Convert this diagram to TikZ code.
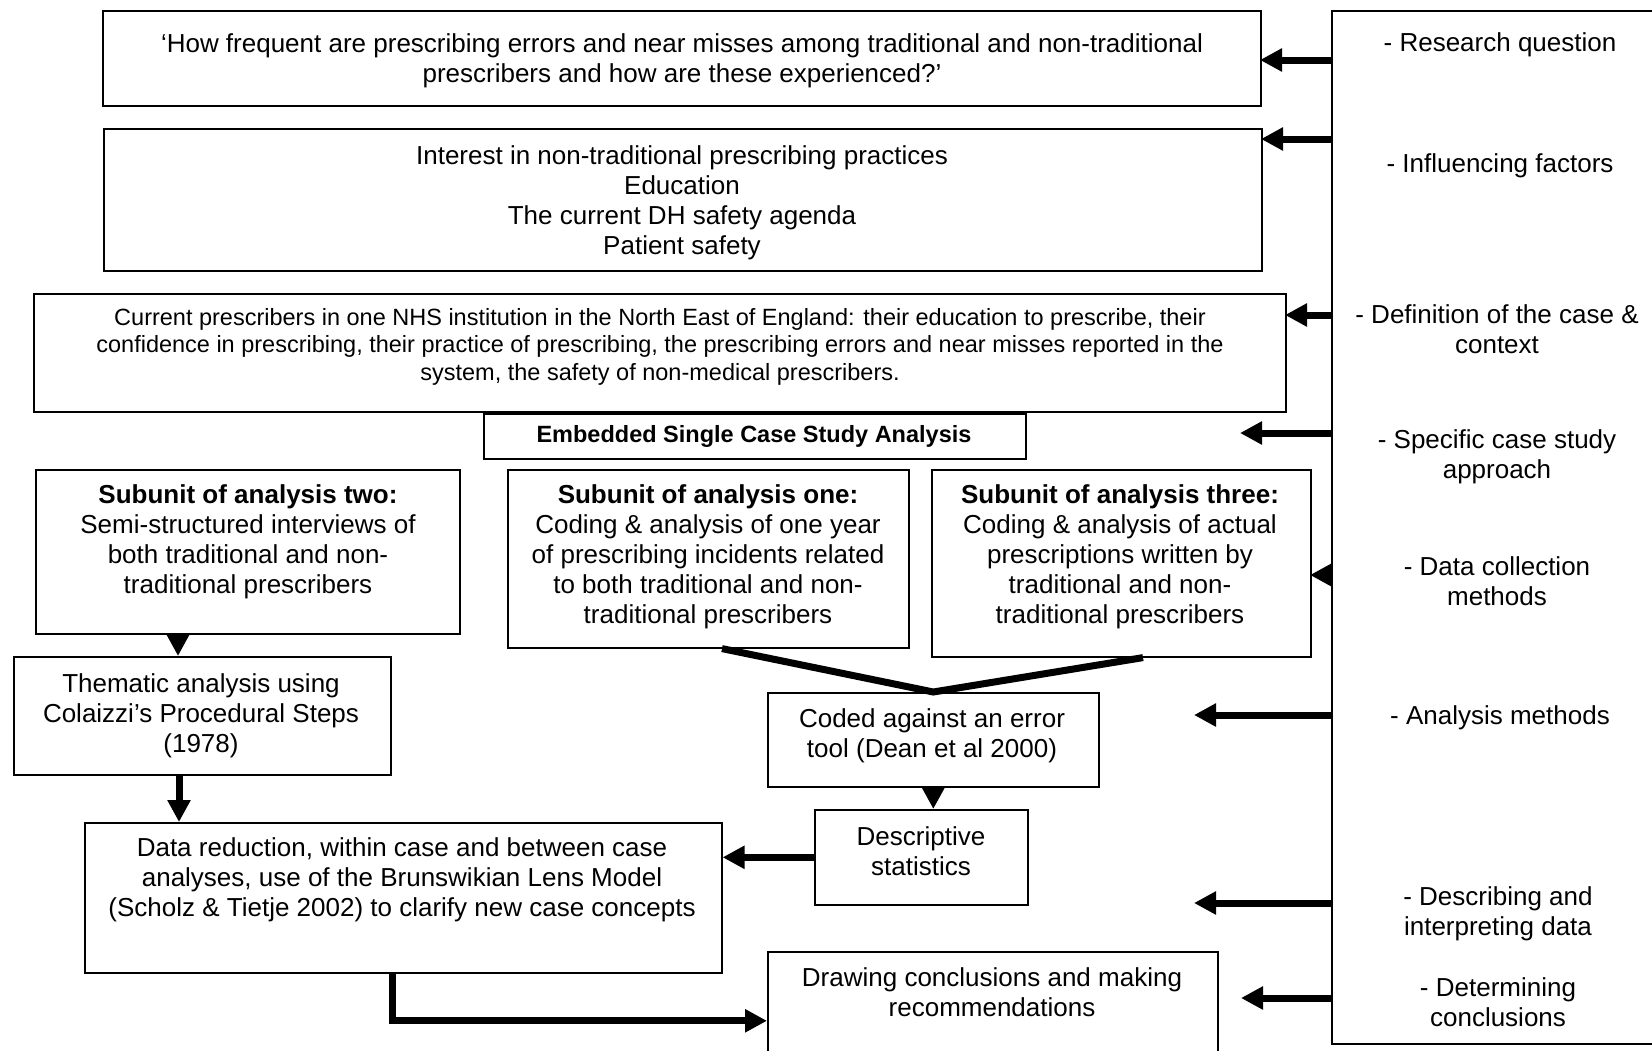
\documentclass[tikz,border=0pt]{standalone}
\usepackage{fontspec}
\setmainfont{Liberation Sans}
\usetikzlibrary{arrows.meta}
\begin{document}
\begin{tikzpicture}[x=1pt,y=-1pt,
  box/.style={draw=black, line width=1.6pt, inner sep=0pt, anchor=north west},
  txt/.style={inner sep=0pt, align=center, font=\fontsize{26}{30}\selectfont},
  smalltxt/.style={inner sep=0pt, align=center, font=\fontsize{23.5}{27.5}\selectfont},
  fat/.style={line width=7pt, -{Triangle[length=22pt,width=22pt]}},
  link/.style={line width=7pt},
]
\useasboundingbox (0,0) rectangle (1652,1050);
\fill[white] (0,0) rectangle (1652,1050);

% boxes
\node[box, minimum width=1158pt, minimum height=95pt] (rq) at (102,10) {};
\node[box, minimum width=1158pt, minimum height=142pt] (inf) at (103,128) {};
\node[box, minimum width=1252pt, minimum height=118pt] (def) at (33,293) {};
\node[box, minimum width=542pt, minimum height=45pt] (emb) at (483,413) {};
\node[box, minimum width=424pt, minimum height=164pt] (sub2) at (35,469) {};
\node[box, minimum width=401pt, minimum height=178pt] (sub1) at (507,469) {};
\node[box, minimum width=379pt, minimum height=187pt] (sub3) at (931,469) {};
\node[box, minimum width=377pt, minimum height=118pt] (them) at (13,656) {};
\node[box, minimum width=331pt, minimum height=94pt] (coded) at (767,692) {};
\node[box, minimum width=213pt, minimum height=95pt] (desc) at (814,809) {};
\node[box, minimum width=637pt, minimum height=150pt] (dred) at (84,822) {};
\node[box, minimum width=450pt, minimum height=138pt] (concl) at (767,951) {};
\node[box, minimum width=340pt, minimum height=1033pt] (panel) at (1331,10) {};

% texts
\node[txt] (rq-t) at (682,60.5) {‘How frequent are prescribing errors and near misses among traditional and non-traditional\\prescribers and how are these experienced?’};
\node[txt] (inf-t) at (682,202.5) {Interest in non-traditional prescribing practices\\Education\\The current DH safety agenda\\Patient safety};
\node[smalltxt] (def-t) at (660,346.5) {Current prescribers in one NHS institution in the North East of England: their education to prescribe, their\\confidence in prescribing, their practice of prescribing, the prescribing errors and near misses reported in the\\system, the safety of non-medical prescribers.};
\node[smalltxt, font=\bfseries\fontsize{23.5}{27.5}\selectfont] (emb-t) at (754,436) {Embedded Single Case Study Analysis};
\node[txt] (sub2-t) at (248,541.5) {\textbf{Subunit of analysis two:}\\Semi-structured interviews of\\both traditional and non-\\traditional prescribers};
\node[txt] (sub1-t) at (708,557) {\textbf{Subunit of analysis one:}\\Coding \& analysis of one year\\of prescribing incidents related\\to both traditional and non-\\traditional prescribers};
\node[txt] (sub3-t) at (1120,557) {\textbf{Subunit of analysis three:}\\Coding \& analysis of actual\\prescriptions written by\\traditional and non-\\traditional prescribers};
\node[txt] (them-t) at (201,716) {Thematic analysis using\\Colaizzi’s Procedural Steps\\(1978)};
\node[txt] (coded-t) at (932,736) {Coded against an error\\tool (Dean et al 2000)};
\node[txt] (desc-t) at (921,851) {Descriptive\\statistics};
\node[txt] (dred-t) at (402,880) {Data reduction, within case and between case\\analyses, use of the Brunswikian Lens Model\\(Scholz \& Tietje 2002) to clarify new case concepts};
\node[txt] (concl-t) at (992,992.5) {Drawing conclusions and making\\recommendations};

% panel texts
\node[txt] (p1) at (1500,45) {- Research question};
\node[txt] (p2) at (1500,165.5) {- Influencing factors};
\node[txt] (p3) at (1497,329) {- Definition of the case \&\\context};
\node[txt] (p4) at (1497,457) {- Specific case study\\approach};
\node[txt] (p5) at (1497,581) {- Data collection\\methods};
\node[txt] (p6) at (1500,718) {- Analysis methods};
\node[txt] (p7) at (1498,914) {- Describing and\\interpreting data};
\node[txt] (p8) at (1498,1002.5) {- Determining\\conclusions};

% tips of panel arrows
\coordinate (t1) at (1260,60);
\coordinate (t2) at (1261,139);
\coordinate (t3) at (1285,315);
\coordinate (t4) at (1240,433);
\coordinate (t5) at (1310,575);
\coordinate (t6) at (1194,715);
\coordinate (t7) at (1194,903);
\coordinate (t8) at (1241,998);
\foreach \t in {t1,t2,t3,t4,t5,t6,t7,t8}
  \draw[fat] (panel.west |- \t) -- (\t);

% flow connectors
\draw[fat] ([xshift=143pt]sub2.south west) -- ([xshift=165pt]them.north west);
\draw[fat] ([xshift=166pt]them.south west) -- ([xshift=95pt]dred.north west);
\draw[link] ([xshift=215pt]sub1.south west) -- (coded.north) -- ([xshift=212pt]sub3.south west);
\draw[fat] (coded.south) -- (coded.south |- desc.north);
\draw[fat] (desc.west) -- (desc.west -| dred.east);
\draw[fat] ([xshift=308pt]dred.south west) |- (concl.west);
\end{tikzpicture}
\end{document}
